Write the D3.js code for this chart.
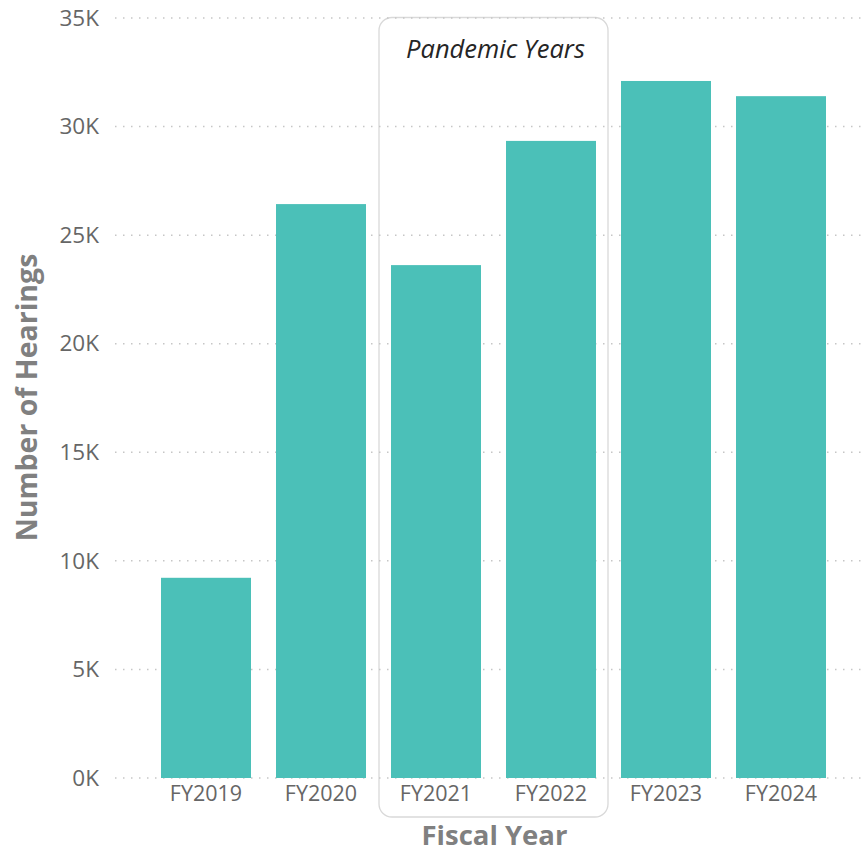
<!DOCTYPE html>
<html>
<head>
<meta charset="utf-8">
<script src="https://cdn.jsdelivr.net/npm/d3@7"></script>
<style>
  html, body { margin: 0; padding: 0; background: #fff; }
  svg { display: block; font-family: "Open Sans", "Segoe UI", sans-serif; }
</style>
</head>
<body>
<svg id="chart" width="862" height="853"></svg>
<script>
// Hearings per fiscal year
const years = ["FY2019", "FY2020", "FY2021", "FY2022", "FY2023", "FY2024"];
const hearings = [9220, 26430, 23620, 29340, 32100, 31400];
const yTicks = [0, 5000, 10000, 15000, 20000, 25000, 30000, 35000];
const pandemicYears = ["FY2021", "FY2022"];

const svg = d3.select("#chart");

const x = d3.scaleBand()
  .domain(years)
  .range([148.5, 838.5])
  .paddingInner(25 / 115)
  .paddingOuter(12.5 / 115);

const y = d3.scaleLinear().domain([0, 35000]).range([778, 18]);

// Pandemic highlight box
const boxPad = (x.step() - x.bandwidth()) / 2 - 0.5;
const bx0 = x(pandemicYears[0]) - boxPad;
const bx1 = x(pandemicYears[pandemicYears.length - 1]) + x.bandwidth() + boxPad;
svg.append("rect")
  .attr("x", bx0).attr("y", 17.5)
  .attr("width", bx1 - bx0).attr("height", 817 - 17.5)
  .attr("rx", 13).attr("ry", 13)
  .attr("fill", "none")
  .attr("stroke", "#d9d9d9")
  .attr("stroke-width", 1.3);

svg.append("text")
  .attr("x", (bx0 + bx1) / 2 + 2).attr("y", 58)
  .attr("text-anchor", "middle")
  .attr("font-style", "italic")
  .attr("font-size", 25.5)
  .attr("fill", "#252525")
  .text("Pandemic Years");

// Gridlines
svg.append("g")
  .selectAll("line")
  .data(yTicks)
  .join("line")
  .attr("x1", 115).attr("x2", 862)
  .attr("y1", d => y(d)).attr("y2", d => y(d))
  .attr("stroke", "#c6c6c6")
  .attr("stroke-width", 1.5)
  .attr("stroke-dasharray", "1.5,6.5");

// Bars
svg.append("g")
  .selectAll("rect")
  .data(years.map((yr, i) => ({ yr, v: hearings[i] })))
  .join("rect")
  .attr("x", d => x(d.yr))
  .attr("width", x.bandwidth())
  .attr("y", d => y(d.v))
  .attr("height", d => y(0) - y(d.v))
  .attr("fill", "#4BC0B8");

// Y axis
const yAxis = d3.axisLeft(y)
  .tickValues(yTicks)
  .tickSize(0)
  .tickPadding(0)
  .tickFormat(d => (d / 1000) + "K");
svg.append("g")
  .attr("transform", "translate(99,0)")
  .call(yAxis)
  .call(g => g.select(".domain").remove())
  .selectAll("text")
  .attr("font-size", 22.5)
  .attr("font-family", "'Open Sans', sans-serif")
  .attr("fill", "#666");

// X axis
const xAxis = d3.axisBottom(x).tickSize(0).tickPadding(0);
svg.append("g")
  .attr("transform", "translate(0,786)")
  .call(xAxis)
  .call(g => g.select(".domain").remove())
  .selectAll("text")
  .attr("font-size", 21.5)
  .attr("font-family", "'Open Sans', sans-serif")
  .attr("fill", "#666");

// Axis titles
svg.append("text")
  .attr("x", (x.range()[0] + x.range()[1]) / 2 + 1).attr("y", 845)
  .attr("text-anchor", "middle")
  .attr("font-weight", "bold")
  .attr("font-size", 27.5)
  .attr("fill", "#808080")
  .text("Fiscal Year");

svg.append("text")
  .attr("transform", "translate(37,397.5) rotate(-90)")
  .attr("text-anchor", "middle")
  .attr("font-weight", "bold")
  .attr("font-size", 28.5)
  .attr("fill", "#808080")
  .text("Number of Hearings");
</script>
</body>
</html>
